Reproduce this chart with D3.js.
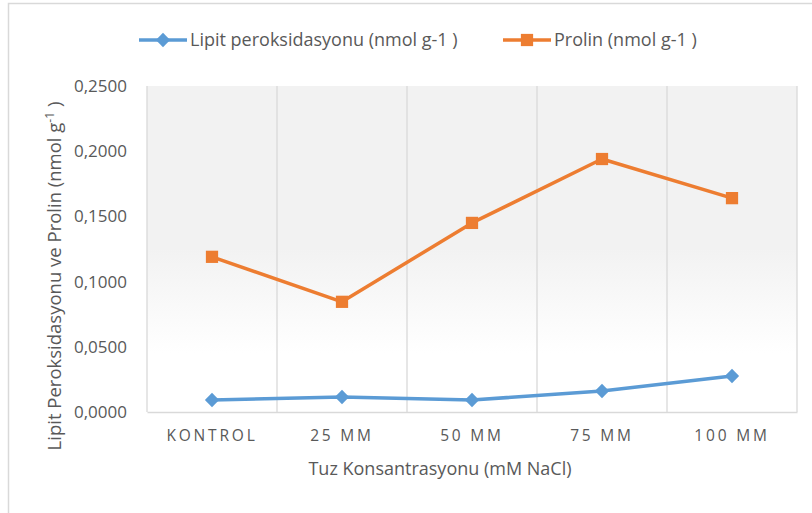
<!DOCTYPE html>
<html>
<head>
<meta charset="utf-8">
<script src="https://cdn.jsdelivr.net/npm/d3@7"></script>
<style>
  body { margin: 0; background: #fff; }
  text { font-family: "Open Sans", sans-serif; fill: #595959; }
</style>
</head>
<body>
<div id="chart"></div>
<script>
const categories = ["KONTROL", "25 MM", "50 MM", "75 MM", "100 MM"];
const lipitValues = [0.0092, 0.0115, 0.0092, 0.0161, 0.0276];
const prolinValues = [0.119, 0.0845, 0.145, 0.194, 0.164];
const yTicks = [0, 0.05, 0.10, 0.15, 0.20, 0.25];
const seriesNames = ["Lipit peroksidasyonu (nmol g-1 )", "Prolin (nmol g-1 )"];

const width = 812, height = 513;
const plot = { left: 147, right: 797, top: 86, bottom: 412 };

const svg = d3.select("#chart").append("svg")
  .attr("width", width)
  .attr("height", height);

// outer chart border (only top/left visible)
svg.append("rect")
  .attr("x", 8.5).attr("y", 3.5)
  .attr("width", 900).attr("height", 600)
  .attr("fill", "#fff")
  .attr("stroke", "#d9d9d9").attr("stroke-width", 1.5);

const defs = svg.append("defs");
const grad = defs.append("linearGradient")
  .attr("id", "bg").attr("x1", 0).attr("y1", 0).attr("x2", 0).attr("y2", 1);
grad.append("stop").attr("offset", "0%").attr("stop-color", "#f2f2f2");
grad.append("stop").attr("offset", "50%").attr("stop-color", "#f2f2f2");
grad.append("stop").attr("offset", "82%").attr("stop-color", "#ffffff");
grad.append("stop").attr("offset", "100%").attr("stop-color", "#ffffff");

const x = d3.scaleBand()
  .domain(categories)
  .range([plot.left, plot.right]);

const y = d3.scaleLinear()
  .domain([0, 0.25])
  .range([plot.bottom, plot.top]);

svg.append("rect")
  .attr("x", plot.left).attr("y", plot.top)
  .attr("width", plot.right - plot.left)
  .attr("height", plot.bottom - plot.top)
  .attr("fill", "url(#bg)");

// vertical gridlines at category boundaries
const bounds = categories.map(c => x(c)).concat([plot.right]);
svg.append("g").selectAll("line")
  .data(bounds)
  .enter().append("line")
  .attr("x1", d => d).attr("x2", d => d)
  .attr("y1", plot.top).attr("y2", plot.bottom)
  .attr("stroke", "#d9d9d9").attr("stroke-width", 1.3);

// x axis
const xAxis = svg.append("g")
  .attr("transform", "translate(0," + plot.bottom + ")")
  .call(d3.axisBottom(x).tickSize(0).tickPadding(18));
xAxis.select(".domain").attr("stroke", "#d9d9d9").attr("stroke-width", 1.5);
xAxis.selectAll("text")
  .style("font-family", "'Open Sans', sans-serif")
  .style("font-size", "15.5px")
  .style("letter-spacing", "2.8px")
  .attr("fill", "#595959");

// y axis
const yAxis = svg.append("g")
  .attr("transform", "translate(" + plot.left + ",0)")
  .call(d3.axisLeft(y).tickValues(yTicks).tickSize(0).tickPadding(20)
    .tickFormat(d => d3.format(".4f")(d).replace(".", ",")));
yAxis.select(".domain").remove();
yAxis.selectAll("text")
  .style("font-family", "'Open Sans', sans-serif")
  .style("font-size", "17px")
  .attr("fill", "#595959");

// axis titles
svg.append("text")
  .attr("x", 440).attr("y", 475)
  .attr("text-anchor", "middle")
  .style("font-size", "18px")
  .text("Tuz Konsantrasyonu (mM NaCl)");

const yt = svg.append("text")
  .attr("transform", "translate(61,276) rotate(-90)")
  .attr("text-anchor", "middle")
  .style("font-size", "18.5px");
yt.append("tspan").text("Lipit Peroksidasyonu ve Prolin (nmol g");
yt.append("tspan").attr("dy", -7).style("font-size", "12px").text("-1");
yt.append("tspan").attr("dy", 7).text(" )");

// series
const line = d3.line()
  .x((d, i) => x(categories[i]) + x.bandwidth() / 2)
  .y(d => y(d));

const series = [
  { name: seriesNames[0], values: lipitValues, color: "#5b9bd5", symbol: d3.symbolDiamond2 },
  { name: seriesNames[1], values: prolinValues, color: "#ed7d31", symbol: d3.symbolSquare }
];

series.forEach(s => {
  svg.append("path")
    .datum(s.values)
    .attr("d", line)
    .attr("fill", "none")
    .attr("stroke", s.color)
    .attr("stroke-width", 3.5)
    .attr("stroke-linejoin", "round");
  svg.append("g").selectAll("path")
    .data(s.values)
    .enter().append("path")
    .attr("transform", (d, i) => "translate(" + (x(categories[i]) + x.bandwidth() / 2) + "," + y(d) + ")")
    .attr("d", d3.symbol().type(s.symbol).size(s.symbol === d3.symbolSquare ? 150 : 130))
    .attr("fill", s.color);
});

// legend
const legendX = [139, 503];
series.forEach((s, i) => {
  const g = svg.append("g").attr("transform", "translate(" + legendX[i] + ",40)");
  g.append("line")
    .attr("x1", 0).attr("x2", 48)
    .attr("stroke", s.color).attr("stroke-width", 3.5);
  g.append("path")
    .attr("transform", "translate(24,0)")
    .attr("d", d3.symbol().type(s.symbol).size(s.symbol === d3.symbolSquare ? 150 : 130))
    .attr("fill", s.color);
  g.append("text")
    .attr("x", 51).attr("y", 0).attr("dy", "0.35em")
    .style("font-size", "18px")
    .text(s.name);
});
</script>
</body>
</html>
